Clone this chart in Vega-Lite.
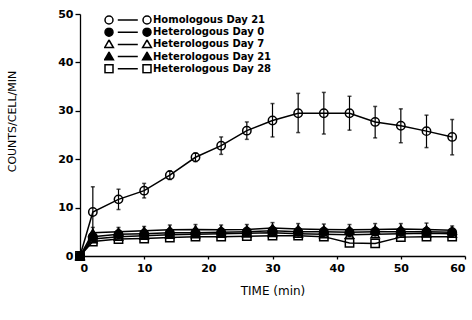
{
  "$schema": "https://vega.github.io/schema/vega-lite/v6.json",
  "width": 385,
  "height": 242,
  "autosize": {"type": "none"},
  "padding": {"left": 80, "top": 14, "right": 7, "bottom": 64},
  "background": "white",
  "config": {
    "view": {"stroke": null},
    "axis": {
      "grid": false,
      "domainColor": "black",
      "tickColor": "black",
      "labelColor": "black",
      "titleColor": "black",
      "domainWidth": 1.3,
      "tickWidth": 1.3,
      "labelFont": "DejaVu Sans",
      "labelFontWeight": "bold",
      "labelFontSize": 11,
      "titleFont": "DejaVu Sans",
      "titleFontWeight": "normal",
      "titleFontSize": 11
    }
  },
  "data": {
    "values": [
      {"series": "Homologous Day 21", "t": 0, "v": 0},
      {"series": "Homologous Day 21", "t": 2, "v": 9.1, "lo": 4.5, "hi": 14.3},
      {"series": "Homologous Day 21", "t": 6, "v": 11.7, "lo": 9.6, "hi": 13.8},
      {"series": "Homologous Day 21", "t": 10, "v": 13.5, "lo": 12.0, "hi": 15.0},
      {"series": "Homologous Day 21", "t": 14, "v": 16.7, "lo": 15.8, "hi": 17.6},
      {"series": "Homologous Day 21", "t": 18, "v": 20.4, "lo": 19.5, "hi": 21.3},
      {"series": "Homologous Day 21", "t": 22, "v": 22.8, "lo": 21.0, "hi": 24.6},
      {"series": "Homologous Day 21", "t": 26, "v": 25.9, "lo": 24.1, "hi": 27.7},
      {"series": "Homologous Day 21", "t": 30, "v": 28.0, "lo": 24.6, "hi": 31.5},
      {"series": "Homologous Day 21", "t": 34, "v": 29.5, "lo": 25.5, "hi": 33.6},
      {"series": "Homologous Day 21", "t": 38, "v": 29.5, "lo": 25.2, "hi": 33.8},
      {"series": "Homologous Day 21", "t": 42, "v": 29.5, "lo": 26.0, "hi": 33.0},
      {"series": "Homologous Day 21", "t": 46, "v": 27.7, "lo": 24.4, "hi": 30.9},
      {"series": "Homologous Day 21", "t": 50, "v": 26.9, "lo": 23.4, "hi": 30.4},
      {"series": "Homologous Day 21", "t": 54, "v": 25.8, "lo": 22.4, "hi": 29.1},
      {"series": "Homologous Day 21", "t": 58, "v": 24.6, "lo": 20.9, "hi": 28.2},

      {"series": "Heterologous Day 0", "t": 0, "v": 0},
      {"series": "Heterologous Day 0", "t": 2, "v": 4.0},
      {"series": "Heterologous Day 0", "t": 6, "v": 4.5},
      {"series": "Heterologous Day 0", "t": 10, "v": 4.6},
      {"series": "Heterologous Day 0", "t": 14, "v": 4.8},
      {"series": "Heterologous Day 0", "t": 18, "v": 4.8},
      {"series": "Heterologous Day 0", "t": 22, "v": 4.9},
      {"series": "Heterologous Day 0", "t": 26, "v": 5.0},
      {"series": "Heterologous Day 0", "t": 30, "v": 5.2},
      {"series": "Heterologous Day 0", "t": 34, "v": 5.0},
      {"series": "Heterologous Day 0", "t": 38, "v": 5.0},
      {"series": "Heterologous Day 0", "t": 42, "v": 4.9},
      {"series": "Heterologous Day 0", "t": 46, "v": 5.0},
      {"series": "Heterologous Day 0", "t": 50, "v": 5.0},
      {"series": "Heterologous Day 0", "t": 54, "v": 5.0},
      {"series": "Heterologous Day 0", "t": 58, "v": 4.9},

      {"series": "Heterologous Day 7", "t": 0, "v": 0},
      {"series": "Heterologous Day 7", "t": 2, "v": 3.5},
      {"series": "Heterologous Day 7", "t": 6, "v": 4.0},
      {"series": "Heterologous Day 7", "t": 10, "v": 4.2},
      {"series": "Heterologous Day 7", "t": 14, "v": 4.4},
      {"series": "Heterologous Day 7", "t": 18, "v": 4.5},
      {"series": "Heterologous Day 7", "t": 22, "v": 4.6},
      {"series": "Heterologous Day 7", "t": 26, "v": 4.7},
      {"series": "Heterologous Day 7", "t": 30, "v": 4.8},
      {"series": "Heterologous Day 7", "t": 34, "v": 4.6},
      {"series": "Heterologous Day 7", "t": 38, "v": 4.5},
      {"series": "Heterologous Day 7", "t": 42, "v": 4.4},
      {"series": "Heterologous Day 7", "t": 46, "v": 4.5},
      {"series": "Heterologous Day 7", "t": 50, "v": 4.6},
      {"series": "Heterologous Day 7", "t": 54, "v": 4.7},
      {"series": "Heterologous Day 7", "t": 58, "v": 4.6},

      {"series": "Heterologous Day 21", "t": 0, "v": 0},
      {"series": "Heterologous Day 21", "t": 2, "v": 4.8, "lo": 3.8, "hi": 5.9},
      {"series": "Heterologous Day 21", "t": 6, "v": 5.0, "lo": 4.1, "hi": 5.9},
      {"series": "Heterologous Day 21", "t": 10, "v": 5.2, "lo": 4.3, "hi": 6.1},
      {"series": "Heterologous Day 21", "t": 14, "v": 5.4, "lo": 4.4, "hi": 6.4},
      {"series": "Heterologous Day 21", "t": 18, "v": 5.5, "lo": 4.5, "hi": 6.5},
      {"series": "Heterologous Day 21", "t": 22, "v": 5.4, "lo": 4.4, "hi": 6.4},
      {"series": "Heterologous Day 21", "t": 26, "v": 5.5, "lo": 4.5, "hi": 6.5},
      {"series": "Heterologous Day 21", "t": 30, "v": 5.8, "lo": 4.7, "hi": 6.9},
      {"series": "Heterologous Day 21", "t": 34, "v": 5.6, "lo": 4.5, "hi": 6.7},
      {"series": "Heterologous Day 21", "t": 38, "v": 5.5, "lo": 4.5, "hi": 6.6},
      {"series": "Heterologous Day 21", "t": 42, "v": 5.4, "lo": 4.4, "hi": 6.5},
      {"series": "Heterologous Day 21", "t": 46, "v": 5.5, "lo": 4.4, "hi": 6.7},
      {"series": "Heterologous Day 21", "t": 50, "v": 5.6, "lo": 4.5, "hi": 6.7},
      {"series": "Heterologous Day 21", "t": 54, "v": 5.5, "lo": 4.3, "hi": 6.8},
      {"series": "Heterologous Day 21", "t": 58, "v": 5.3, "lo": 4.3, "hi": 6.2},

      {"series": "Heterologous Day 28", "t": 0, "v": 0},
      {"series": "Heterologous Day 28", "t": 2, "v": 3.0},
      {"series": "Heterologous Day 28", "t": 6, "v": 3.5},
      {"series": "Heterologous Day 28", "t": 10, "v": 3.6},
      {"series": "Heterologous Day 28", "t": 14, "v": 3.8},
      {"series": "Heterologous Day 28", "t": 18, "v": 4.0},
      {"series": "Heterologous Day 28", "t": 22, "v": 4.0},
      {"series": "Heterologous Day 28", "t": 26, "v": 4.1},
      {"series": "Heterologous Day 28", "t": 30, "v": 4.2},
      {"series": "Heterologous Day 28", "t": 34, "v": 4.2},
      {"series": "Heterologous Day 28", "t": 38, "v": 4.0},
      {"series": "Heterologous Day 28", "t": 42, "v": 2.7},
      {"series": "Heterologous Day 28", "t": 46, "v": 2.6},
      {"series": "Heterologous Day 28", "t": 50, "v": 3.9},
      {"series": "Heterologous Day 28", "t": 54, "v": 4.0},
      {"series": "Heterologous Day 28", "t": 58, "v": 4.0}
    ]
  },
  "encoding": {
    "x": {
      "field": "t",
      "type": "quantitative",
      "scale": {"domain": [0, 60], "nice": false},
      "axis": {
        "title": "TIME (min)",
        "values": [0, 10, 20, 30, 40, 50, 60],
        "tickSize": 3,
        "labelPadding": 3,
        "titlePadding": 12,
        "titleFontSize": 12
      }
    },
    "y": {
      "field": "v",
      "type": "quantitative",
      "scale": {"domain": [0, 50], "nice": false},
      "axis": {
        "title": "COUNTS/CELL/MIN",
        "values": [0, 10, 20, 30, 40, 50],
        "tickSize": 5,
        "labelPadding": 2,
        "titlePadding": 40,
        "titleY": 107
      }
    }
  },
  "layer": [
    {
      "mark": {"type": "line", "color": "black", "strokeWidth": 1.5},
      "encoding": {"detail": {"field": "series"}}
    },
    {
      "transform": [{"filter": "isValid(datum.lo)"}],
      "mark": {"type": "rule", "color": "black", "strokeWidth": 1.2},
      "encoding": {
        "y": {"field": "lo", "type": "quantitative"},
        "y2": {"field": "hi"}
      }
    },
    {
      "transform": [{"filter": "isValid(datum.lo)"}],
      "mark": {"type": "tick", "orient": "horizontal", "color": "black", "size": 4, "thickness": 1.5},
      "encoding": {"y": {"field": "hi", "type": "quantitative"}}
    },
    {
      "transform": [{"filter": "isValid(datum.lo)"}],
      "mark": {"type": "tick", "orient": "horizontal", "color": "black", "size": 4, "thickness": 1.5},
      "encoding": {"y": {"field": "lo", "type": "quantitative"}}
    },
    {
      "mark": {"type": "point", "filled": false, "strokeWidth": 1.5, "size": 70, "opacity": 1},
      "encoding": {
        "shape": {
          "field": "series",
          "type": "nominal",
          "scale": {
            "domain": ["Heterologous Day 0", "Homologous Day 21", "Heterologous Day 7", "Heterologous Day 21", "Heterologous Day 28"],
            "range": ["circle", "circle", "triangle-up", "triangle-up", "square"]
          },
          "legend": null
        },
        "fill": {
          "field": "series",
          "type": "nominal",
          "scale": {
            "domain": ["Homologous Day 21", "Heterologous Day 7", "Heterologous Day 0", "Heterologous Day 21", "Heterologous Day 28"],
            "range": ["transparent", "transparent", "black", "black", "transparent"]
          },
          "legend": null
        },
        "stroke": {
          "field": "series",
          "type": "nominal",
          "scale": {
            "domain": ["Homologous Day 21", "Heterologous Day 0", "Heterologous Day 7", "Heterologous Day 21", "Heterologous Day 28"],
            "range": ["black", "black", "black", "black", "black"]
          },
          "legend": {
            "title": null,
            "orient": "none",
            "legendX": 24,
            "legendY": 1,
            "symbolSize": 64,
            "symbolStrokeWidth": 1.5,
            "clipHeight": 10,
            "labelOffset": 39,
            "labelFont": "DejaVu Sans",
            "labelFontWeight": "bold",
            "labelFontSize": 10,
            "labelColor": "black",
            "rowPadding": 2.2,
            "encoding": {
              "symbols": {
                "shape": {"value": {"expr": "datum.value === 'Homologous Day 21' || datum.value === 'Heterologous Day 0' ? 'M-1,0A1,1 0 1,0 1,0A1,1 0 1,0 -1,0Z M2.2,0L7.2,0 M8.5,0A1,1 0 1,0 10.5,0A1,1 0 1,0 8.5,0Z' : (datum.value === 'Heterologous Day 28' ? 'M-1,-1H1V1H-1Z M2.2,0L7.2,0 M8.5,-1H10.5V1H8.5Z' : 'M0,-1.1L1.1,0.8L-1.1,0.8Z M2.2,0L7.2,0 M9.5,-1.1L10.6,0.8L8.4,0.8Z')"}},
                "fill": {"value": {"expr": "datum.value === 'Heterologous Day 0' || datum.value === 'Heterologous Day 21' ? 'black' : 'transparent'"}},
                "strokeWidth": {"value": 1.5},
                "size": {"value": 64},
                "opacity": {"value": 1}
              }
            }
          }
        }
      }
    }
  ]
}
